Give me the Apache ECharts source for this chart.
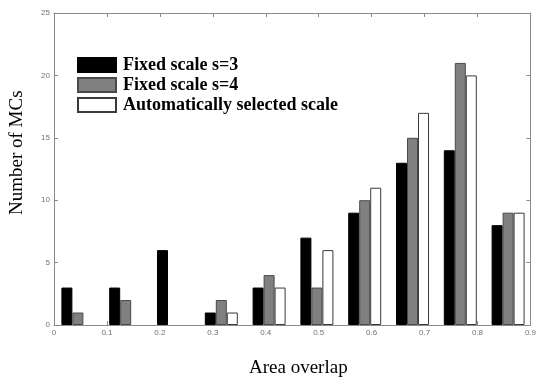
<!DOCTYPE html>
<html>
<head>
<meta charset="utf-8">
<script src="https://cdn.jsdelivr.net/npm/echarts@6/dist/echarts.min.js"></script>
<style>html,body{margin:0;padding:0;background:#fff}#c{width:539px;height:378px}</style>
</head>
<body>
<div id="c"></div>
<script>
var bins = ['0.045','0.135','0.225','0.315','0.405','0.495','0.585','0.675','0.765','0.855'];
var seriesNames = ['Fixed scale s=3', 'Fixed scale s=4', 'Automatically selected scale'];
var fixed3 = [3, 3, 6, 1, 3, 7, 9, 13, 14, 8];
var fixed4 = [1, 2, 0, 2, 4, 3, 10, 15, 21, 9];
var auto = [0, 0, 0, 1, 3, 6, 11, 17, 20, 9];
var xTicks = [0, 0.1, 0.2, 0.3, 0.4, 0.5, 0.6, 0.7, 0.8, 0.9];
var yTicks = [0, 5, 10, 15, 20, 25];

var chart = echarts.init(document.getElementById('c'));
var gridPos = {left: 54, right: 7, top: 13, bottom: 53};
var axisColor = '#8a8a8a';
var labelStyle = {color: '#707070', fontSize: 8, fontFamily: 'Liberation Sans'};
function frameX(pos, showLabel) {
  return {
    type: 'value', gridIndex: 1, position: pos,
    min: xTicks[0], max: xTicks[xTicks.length - 1], interval: 0.1,
    axisLine: {show: true, onZero: false, lineStyle: {color: axisColor, width: 1}},
    axisTick: {show: true, inside: true, length: 4, lineStyle: {color: axisColor}},
    splitLine: {show: false},
    axisLabel: Object.assign({show: showLabel, margin: 4, formatter: function (v) { return v === 0 ? '0' : String(+v.toFixed(1)); }}, labelStyle)
  };
}
function frameY(pos, showLabel) {
  return {
    type: 'value', gridIndex: 1, position: pos,
    min: yTicks[0], max: yTicks[yTicks.length - 1], interval: 5,
    axisLine: {show: true, onZero: false, lineStyle: {color: axisColor, width: 1}},
    axisTick: {show: true, inside: true, length: 4, lineStyle: {color: axisColor}},
    splitLine: {show: false},
    axisLabel: Object.assign({show: showLabel, margin: 4}, labelStyle)
  };
}
var colors = ['#000000', '#808080', '#ffffff'];
var borders = ['#000000', '#4a4a4a', '#3a3a3a'];
var data = [fixed3, fixed4, auto];
var series = seriesNames.map(function (n, i) {
  return {
    name: n, type: 'bar', xAxisIndex: 0, yAxisIndex: 0,
    data: data[i].map(function (v) { return v === 0 ? '-' : v; }),
    barWidth: 11, barGap: '0%',
    itemStyle: {color: colors[i], borderColor: borders[i], borderWidth: 1},
    emphasis: {disabled: true}
  };
});
chart.setOption({
  animation: false,
  grid: [Object.assign({}, gridPos), Object.assign({}, gridPos)],
  legend: {
    orient: 'vertical', left: 72, top: 51,
    itemWidth: 38, itemHeight: 14, itemGap: 2,
    icon: 'rect',
    textStyle: {fontFamily: 'Liberation Serif', fontWeight: 'bold', fontSize: 18, color: '#000', lineHeight: 15, padding: [0, 0, 0, 2]},
    data: seriesNames
  },
  xAxis: [
    {type: 'category', gridIndex: 0, data: bins, show: false, boundaryGap: true},
    frameX('bottom', true),
    frameX('top', false)
  ],
  yAxis: [
    {type: 'value', gridIndex: 0, min: yTicks[0], max: yTicks[yTicks.length - 1], show: false},
    frameY('left', true),
    frameY('right', false)
  ],
  series: series,
  graphic: [
    {type: 'text', left: 249, top: 359, style: {text: 'Area overlap', font: '19px "Liberation Serif"', fill: '#000'}},
    {type: 'text', x: 8, y: 215, rotation: Math.PI / 2, style: {text: 'Number of MCs', font: '19px "Liberation Serif"', fill: '#000'}}
  ]
});
</script>
</body>
</html>
